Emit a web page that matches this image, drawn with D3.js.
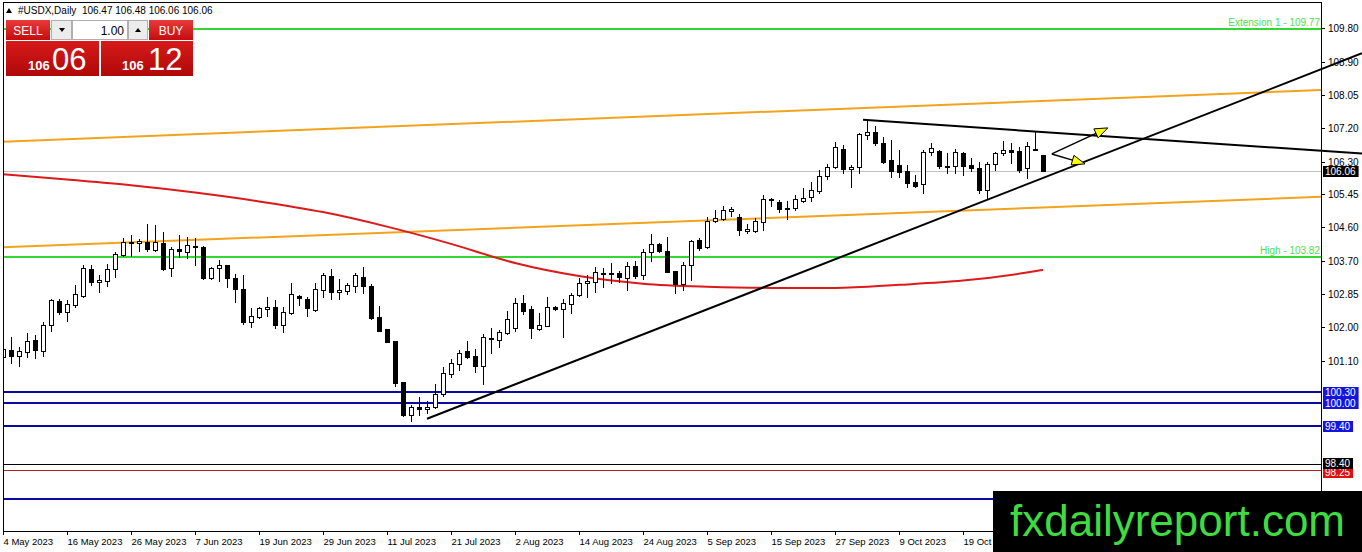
<!DOCTYPE html>
<html>
<head>
<meta charset="utf-8">
<script src="https://cdn.jsdelivr.net/npm/d3@7"></script>
<style>
  body { margin: 0; background: #fff; overflow: hidden; }
  text { font-family: "Liberation Sans", Arial, sans-serif; }
</style>
</head>
<body>
<div id="chart"></div>
<script>
// --- data ------------------------------------------------------------
var dateLabels = ["4 May 2023", "16 May 2023", "26 May 2023", "7 Jun 2023", "19 Jun 2023", "29 Jun 2023",
  "11 Jul 2023", "21 Jul 2023", "2 Aug 2023", "14 Aug 2023", "24 Aug 2023", "5 Sep 2023",
  "15 Sep 2023", "27 Sep 2023", "9 Oct 2023", "19 Oct 2023"]

var opens = [101.21,101.39,101.23,101.34,101.65,101.37,102.03,102.67,102.39,102.56,
  102.80,103.50,103.16,103.20,103.50,103.86,104.18,104.19,104.22,104.00,
  104.19,103.52,104.02,103.96,104.11,104.09,103.27,103.52,103.61,103.26,
  102.98,102.11,102.24,102.46,102.50,102.04,102.36,102.80,102.71,102.43,
  102.96,103.32,102.89,102.94,103.06,103.30,103.06,102.24,101.93,101.62,
  100.55,99.69,99.91,99.85,99.89,100.23,100.75,101.02,101.37,101.23,
  100.97,101.69,101.65,101.82,101.95,102.61,102.46,101.94,102.02,102.52,
  102.46,102.58,102.82,103.13,103.16,103.38,103.39,103.39,103.27,103.58,
  103.35,103.94,104.15,103.97,103.45,103.10,103.61,104.26,104.09,104.76,
  104.81,105.02,104.87,104.50,104.50,104.74,105.33,105.26,105.06,105.11,
  105.29,105.38,105.55,105.93,106.16,106.63,106.11,106.18,107.00,107.07,
  106.79,106.35,106.22,106.07,105.78,105.72,106.55,106.59,106.19,106.19,
  106.54,106.22,106.13,105.57,106.25,106.53,106.61,106.59,106.13,106.65,
  106.47]

var highs = [101.60,101.74,101.47,101.82,101.78,102.12,102.72,102.71,102.69,103.09,
  103.61,103.61,103.35,103.63,103.94,104.31,104.39,104.28,104.68,104.65,
  104.46,104.09,104.39,104.33,104.31,104.10,103.56,103.74,103.61,103.37,
  103.35,102.48,102.50,102.77,102.69,102.52,103.15,102.83,102.77,103.13,
  103.41,103.50,103.23,103.13,103.39,103.56,103.11,102.54,101.94,101.62,
  100.56,99.95,100.15,100.06,100.49,100.94,101.15,101.39,101.62,101.41,
  101.81,101.95,101.91,102.41,102.74,102.82,102.54,102.35,102.78,102.54,
  102.71,102.87,103.27,103.35,103.56,103.54,103.65,103.45,103.69,103.71,
  104.02,104.41,104.17,104.35,103.45,103.69,104.26,104.31,104.87,105.05,
  105.16,105.12,104.93,104.67,104.83,105.44,105.35,105.31,105.29,105.44,
  105.61,105.78,106.09,106.25,106.83,106.74,106.22,107.05,107.40,107.24,
  106.96,106.87,106.61,106.22,105.96,106.61,106.79,106.61,106.53,106.63,
  106.57,106.40,106.31,106.31,106.57,106.86,106.79,106.68,106.83,107.09,
  106.48]

var lows = [101.00,101.06,100.98,101.20,101.17,101.23,101.89,102.33,102.15,102.51,
  102.77,103.09,102.91,103.07,103.30,103.84,103.84,103.98,103.98,103.98,
  103.48,103.32,103.82,103.78,103.61,103.24,103.25,103.20,103.04,102.63,
  102.07,101.98,102.22,102.28,101.97,101.87,102.33,102.56,102.28,102.41,
  102.78,102.71,102.71,102.84,102.91,102.88,102.19,101.89,101.60,100.45,
  99.66,99.52,99.69,99.74,99.87,100.19,100.67,100.87,101.17,100.80,
  100.50,101.32,101.47,101.81,101.89,102.33,101.69,101.91,102.01,102.43,
  101.74,102.36,102.80,102.78,102.89,103.04,103.13,103.17,102.96,103.27,
  103.24,103.71,103.96,103.42,102.88,102.96,103.22,104.00,104.06,104.74,
  104.78,104.89,104.39,104.44,104.48,104.52,105.16,105.00,104.80,105.05,
  105.26,105.29,105.50,105.85,106.13,106.00,105.64,106.02,106.89,106.74,
  106.27,105.92,105.92,105.64,105.64,105.50,106.48,106.13,106.00,106.00,
  105.96,106.07,105.50,105.32,106.09,106.48,106.27,106.05,105.87,106.60,
  106.06]

var closes = [101.41,101.24,101.36,101.62,101.39,102.03,102.69,102.39,102.58,102.85,
  103.52,103.16,103.22,103.50,103.89,104.20,104.21,104.24,104.02,104.20,
  103.50,104.02,103.98,104.13,104.10,103.26,103.52,103.61,103.26,102.97,
  102.11,102.28,102.48,102.52,102.04,102.39,102.85,102.74,102.48,102.97,
  103.35,102.89,102.96,103.09,103.35,103.06,102.22,101.89,101.60,100.52,
  99.69,99.91,99.85,99.91,100.23,100.78,101.04,101.32,101.21,100.97,
  101.72,101.67,101.87,102.19,102.61,102.41,101.97,102.03,102.50,102.46,
  102.61,102.82,103.13,103.19,103.42,103.40,103.40,103.30,103.58,103.33,
  103.94,104.15,103.97,103.43,103.10,103.61,104.24,104.06,104.76,104.84,
  105.05,105.07,104.52,104.55,104.76,105.33,105.31,105.07,105.11,105.32,
  105.37,105.57,105.93,106.16,106.68,106.11,106.16,107.03,107.07,106.79,
  106.31,106.07,106.05,105.74,105.68,106.57,106.66,106.19,106.16,106.57,
  106.19,106.13,105.57,106.25,106.54,106.61,106.56,106.09,106.72,106.61,
  106.06]

// moving average (red), sampled at these bars
var maBars   = [0, 8, 16, 24, 32, 40, 48, 56, 64, 72, 80, 88, 96, 104, 112, 120, 128, 130]
var maValues = [105.98, 105.84, 105.69, 105.50, 105.27, 104.99, 104.61, 104.16, 103.66,
  103.32, 103.12, 103.04, 103.01, 103.01, 103.09, 103.20, 103.41, 103.48]

var axisTicks = [109.80, 108.90, 108.05, 107.20, 106.30, 105.45, 104.60, 103.70, 102.85, 102.00, 101.10]

var greenLevels = [109.77, 103.82]
var greenNames  = ["Extension 1 - 109.77", "High - 103.82"]
var blueLevels  = [100.30, 100.00, 99.40, 97.50]
var blackLevel  = 98.40
var redLevel    = 98.25
var bidPrice    = 106.06

// trend lines as [bar, price] anchor pairs
var channelTop    = [[0, 106.83], [164.75, 108.18]]
var channelBottom = [[0, 104.07], [164.75, 105.39]]
var supportLine   = [[53, 99.59], [135, 106.29]]
var resistLine    = [[107.5, 107.40], [169.875, 106.52]]
var arrowFrom = [131.1, 106.51]
var arrowTo   = [[138.1, 107.19], [135.25, 106.25]]

var header = "#USDX,Daily  106.47 106.48 106.06 106.06"

// --- chart --------------------------------------------------------
var W = 1362, H = 552,
    plotL = 3, plotR = 1321, plotT = 2, plotB = 531

var svg = d3.select("#chart").append("svg")
  .attr("width", W)
  .attr("height", H)
  .style("display", "block")

svg.append("rect").attr("width", W).attr("height", H).attr("fill", "#fff")

var x = d3.scaleLinear().domain([0, 130]).range([3, 1043])
var y = d3.scaleLinear().domain([100, 109.8]).range([403.1, 28])

var defs = svg.append("defs")
defs.append("clipPath").attr("id", "plotclip")
  .append("rect").attr("x", plotL).attr("y", plotT).attr("width", plotR - plotL).attr("height", plotB - plotT)

var plot = svg.append("g").attr("clip-path", "url(#plotclip)")

// extend a line through two [bar, price] anchors out to pixel x = xEnd
function ray(anchors, x0px, xEnd) {
  var p1 = [x(anchors[0][0]), y(anchors[0][1])],
      p2 = [x(anchors[1][0]), y(anchors[1][1])],
      k = (p2[1] - p1[1]) / (p2[0] - p1[0])
  return [[x0px, p1[1] + k * (x0px - p1[0])], [xEnd, p1[1] + k * (xEnd - p1[0])]]
}

function hline(g, v, color, w) {
  var py = w === 2 ? Math.round(y(v)) : Math.round(y(v)) + 0.5
  return g.append("line")
    .attr("x1", plotL).attr("x2", plotR)
    .attr("y1", py).attr("y2", py)
    .attr("stroke", color).attr("stroke-width", w)
}

// bid line and horizontal levels
hline(plot, bidPrice, "#c0c0c0", 1)
blueLevels.forEach((v) => hline(plot, v, "#0a0aa0", 2))
hline(plot, redLevel, "#b02020", 1)
hline(plot, blackLevel, "#000", 1)
greenLevels.forEach((v) => hline(plot, v, "#33d633", 2))

svg.selectAll(".greenlabel").data(greenLevels).enter().append("text")
  .attr("x", plotR - 1).attr("y", (d) => Math.round(y(d)) - 3)
  .attr("text-anchor", "end")
  .attr("font-size", 10)
  .attr("fill", "#4fe04f")
  .text((d, i) => greenNames[i])

// orange channel
;[channelTop, channelBottom].forEach((c) => {
  plot.append("path")
    .attr("d", d3.line()(ray(c, plotL, plotR)))
    .attr("stroke", "#f2a31e").attr("stroke-width", 2).attr("fill", "none")
})

// moving average
plot.append("path")
  .datum(maBars.map((b, i) => [x(b), y(maValues[i])]))
  .attr("d", d3.line().curve(d3.curveMonotoneX))
  .attr("stroke", "#dd1a1a").attr("stroke-width", 2).attr("fill", "none")

// candles
var bars = d3.range(opens.length)
var candles = plot.append("g").selectAll("g").data(bars).enter().append("g")

candles.append("line")
  .attr("x1", (i) => Math.round(x(i)) + 0.5).attr("x2", (i) => Math.round(x(i)) + 0.5)
  .attr("y1", (i) => Math.round(y(highs[i]))).attr("y2", (i) => Math.round(y(lows[i])) + 1)
  .attr("stroke", "#000").attr("stroke-width", 1)

candles.append("rect")
  .attr("x", (i) => Math.round(x(i)) - 1.5)
  .attr("width", 4)
  .attr("y", (i) => Math.round(y(Math.max(opens[i], closes[i]))) + 0.5)
  .attr("height", (i) => Math.max(1, Math.round(y(Math.min(opens[i], closes[i]))) - Math.round(y(Math.max(opens[i], closes[i])))))
  .attr("fill", (i) => closes[i] >= opens[i] ? "#fff" : "#000")
  .attr("stroke", "#000").attr("stroke-width", 1)

// black trend lines (run past the price axis)
svg.append("path")
  .attr("d", d3.line()(ray(supportLine, x(supportLine[0][0]), W)))
  .attr("stroke", "#000").attr("stroke-width", 2).attr("fill", "none")
svg.append("path")
  .attr("d", d3.line()(ray(resistLine, x(resistLine[0][0]), W)))
  .attr("stroke", "#000").attr("stroke-width", 2).attr("fill", "none")

// arrows
arrowTo.forEach((t) => {
  var sx = x(arrowFrom[0]), sy = y(arrowFrom[1]),
      ex = x(t[0]), ey = y(t[1]),
      len = Math.hypot(ex - sx, ey - sy),
      ux = (ex - sx) / len, uy = (ey - sy) / len,
      bx = ex - ux * 13, by = ey - uy * 13
  svg.append("line")
    .attr("x1", sx).attr("y1", sy).attr("x2", bx).attr("y2", by)
    .attr("stroke", "#000").attr("stroke-width", 1.5)
  svg.append("path")
    .attr("d", d3.line()([[ex, ey], [bx - uy * 5, by + ux * 5], [bx + uy * 5, by - ux * 5]]) + "Z")
    .attr("fill", "#ffff00").attr("stroke", "#000").attr("stroke-width", 1)
})

// frame
svg.append("rect")
  .attr("x", plotL + 0.5).attr("y", plotT + 0.5)
  .attr("width", plotR - plotL).attr("height", plotB - plotT)
  .attr("fill", "none").attr("stroke", "#000").attr("stroke-width", 1)

// price axis
var yAxis = svg.append("g")
yAxis.selectAll("line").data(axisTicks).enter().append("line")
  .attr("x1", plotR).attr("x2", plotR + 4)
  .attr("y1", (d) => Math.round(y(d)) + 0.5).attr("y2", (d) => Math.round(y(d)) + 0.5)
  .attr("stroke", "#000").attr("stroke-width", 1)
yAxis.selectAll("text").data(axisTicks).enter().append("text")
  .attr("x", plotR + 7).attr("y", (d) => Math.round(y(d)) + 4)
  .attr("font-size", 10)
  .attr("fill", "#000")
  .text((d) => d.toFixed(2))

// price boxes on the axis
function priceBox(v, bg, dy) {
  var py = Math.round(y(v)) + (dy || 0)
  var g = svg.append("g")
  var t = g.append("text")
    .attr("x", plotR + 4).attr("y", py + 4)
    .attr("font-size", 10).attr("fill", "#fff")
    .text(v.toFixed(2))
  var w = t.node().getComputedTextLength()
  g.insert("rect", "text")
    .attr("x", plotR + 2).attr("y", py - 5)
    .attr("width", w + 5).attr("height", 11)
    .attr("fill", bg)
}
priceBox(redLevel, "#e01010", 2)
priceBox(blackLevel, "#000", -1)
blueLevels.slice(0, 3).forEach((v) => priceBox(v, "#1414e0"))
priceBox(bidPrice, "#000")

// time axis
var xAxis = svg.append("g")
dateLabels.forEach((d, i) => {
  var px = Math.round(x(i * 8)) + 0.5
  xAxis.append("line")
    .attr("x1", px).attr("x2", px).attr("y1", plotB).attr("y2", plotB + 4)
    .attr("stroke", "#000").attr("stroke-width", 1)
  xAxis.append("text")
    .attr("x", px).attr("y", plotB + 14)
    .attr("font-size", 9.5).attr("fill", "#000")
    .text(d)
})

// header
svg.append("path")
  .attr("d", "M6,13 L12,13 L9,8 Z").attr("fill", "#000")
svg.append("text")
  .attr("x", 18).attr("y", 14)
  .attr("font-size", 10).attr("fill", "#000")
  .style("white-space", "pre")
  .text(header)

// one-click trading panel
var g1 = defs.append("linearGradient").attr("id", "btn").attr("x1", 0).attr("x2", 0).attr("y1", 0).attr("y2", 1)
g1.append("stop").attr("offset", 0).attr("stop-color", "#e83a3a")
g1.append("stop").attr("offset", 1).attr("stop-color", "#c40d0d")
var g2 = defs.append("linearGradient").attr("id", "big").attr("x1", 0).attr("x2", 0).attr("y1", 0).attr("y2", 1)
g2.append("stop").attr("offset", 0).attr("stop-color", "#d71a1a")
g2.append("stop").attr("offset", 1).attr("stop-color", "#b00808")

var panel = svg.append("g")
panel.append("rect").attr("x", 6).attr("y", 20).attr("width", 44).attr("height", 20).attr("fill", "url(#btn)")
panel.append("rect").attr("x", 149).attr("y", 20).attr("width", 44).attr("height", 20).attr("fill", "url(#btn)")
panel.append("rect").attr("x", 51.5).attr("y", 20.5).attr("width", 20).attr("height", 19).attr("fill", "#ececec").attr("stroke", "#b0b0b0")
panel.append("rect").attr("x", 72.5).attr("y", 20.5).attr("width", 55).attr("height", 19).attr("fill", "#fff").attr("stroke", "#b0b0b0")
panel.append("rect").attr("x", 128.5).attr("y", 20.5).attr("width", 19).attr("height", 19).attr("fill", "#ececec").attr("stroke", "#b0b0b0")
panel.append("path").attr("d", "M59,28 L65,28 L62,32 Z").attr("fill", "#000")
panel.append("path").attr("d", "M135,32 L141,32 L138,28 Z").attr("fill", "#000")
panel.append("text").attr("x", 28).attr("y", 35).attr("text-anchor", "middle").attr("font-size", 12).attr("fill", "#fff").text("SELL")
panel.append("text").attr("x", 171).attr("y", 35).attr("text-anchor", "middle").attr("font-size", 12).attr("fill", "#fff").text("BUY")
panel.append("text").attr("x", 124).attr("y", 35).attr("text-anchor", "end").attr("font-size", 12).attr("fill", "#000").text("1.00")

panel.append("rect").attr("x", 6).attr("y", 41).attr("width", 93).attr("height", 35).attr("fill", "url(#big)")
panel.append("rect").attr("x", 101).attr("y", 41).attr("width", 92).attr("height", 35).attr("fill", "url(#big)")
panel.append("text").attr("x", 28).attr("y", 70).attr("font-size", 13).attr("font-weight", "bold").attr("fill", "#fff").text("106")
panel.append("text").attr("x", 52).attr("y", 70).attr("font-size", 31).attr("fill", "#fff").text("06")
panel.append("text").attr("x", 122).attr("y", 70).attr("font-size", 13).attr("font-weight", "bold").attr("fill", "#fff").text("106")
panel.append("text").attr("x", 148).attr("y", 70).attr("font-size", 31).attr("fill", "#fff").text("12")

// watermark
svg.append("rect").attr("x", 993).attr("y", 491).attr("width", W - 993).attr("height", H - 491).attr("fill", "#000")
svg.append("text")
  .attr("x", 1010).attr("y", 536)
  .attr("font-size", 44).attr("fill", "#3fdc3f")
  .text("fxdailyreport.com")
</script>
</body>
</html>
